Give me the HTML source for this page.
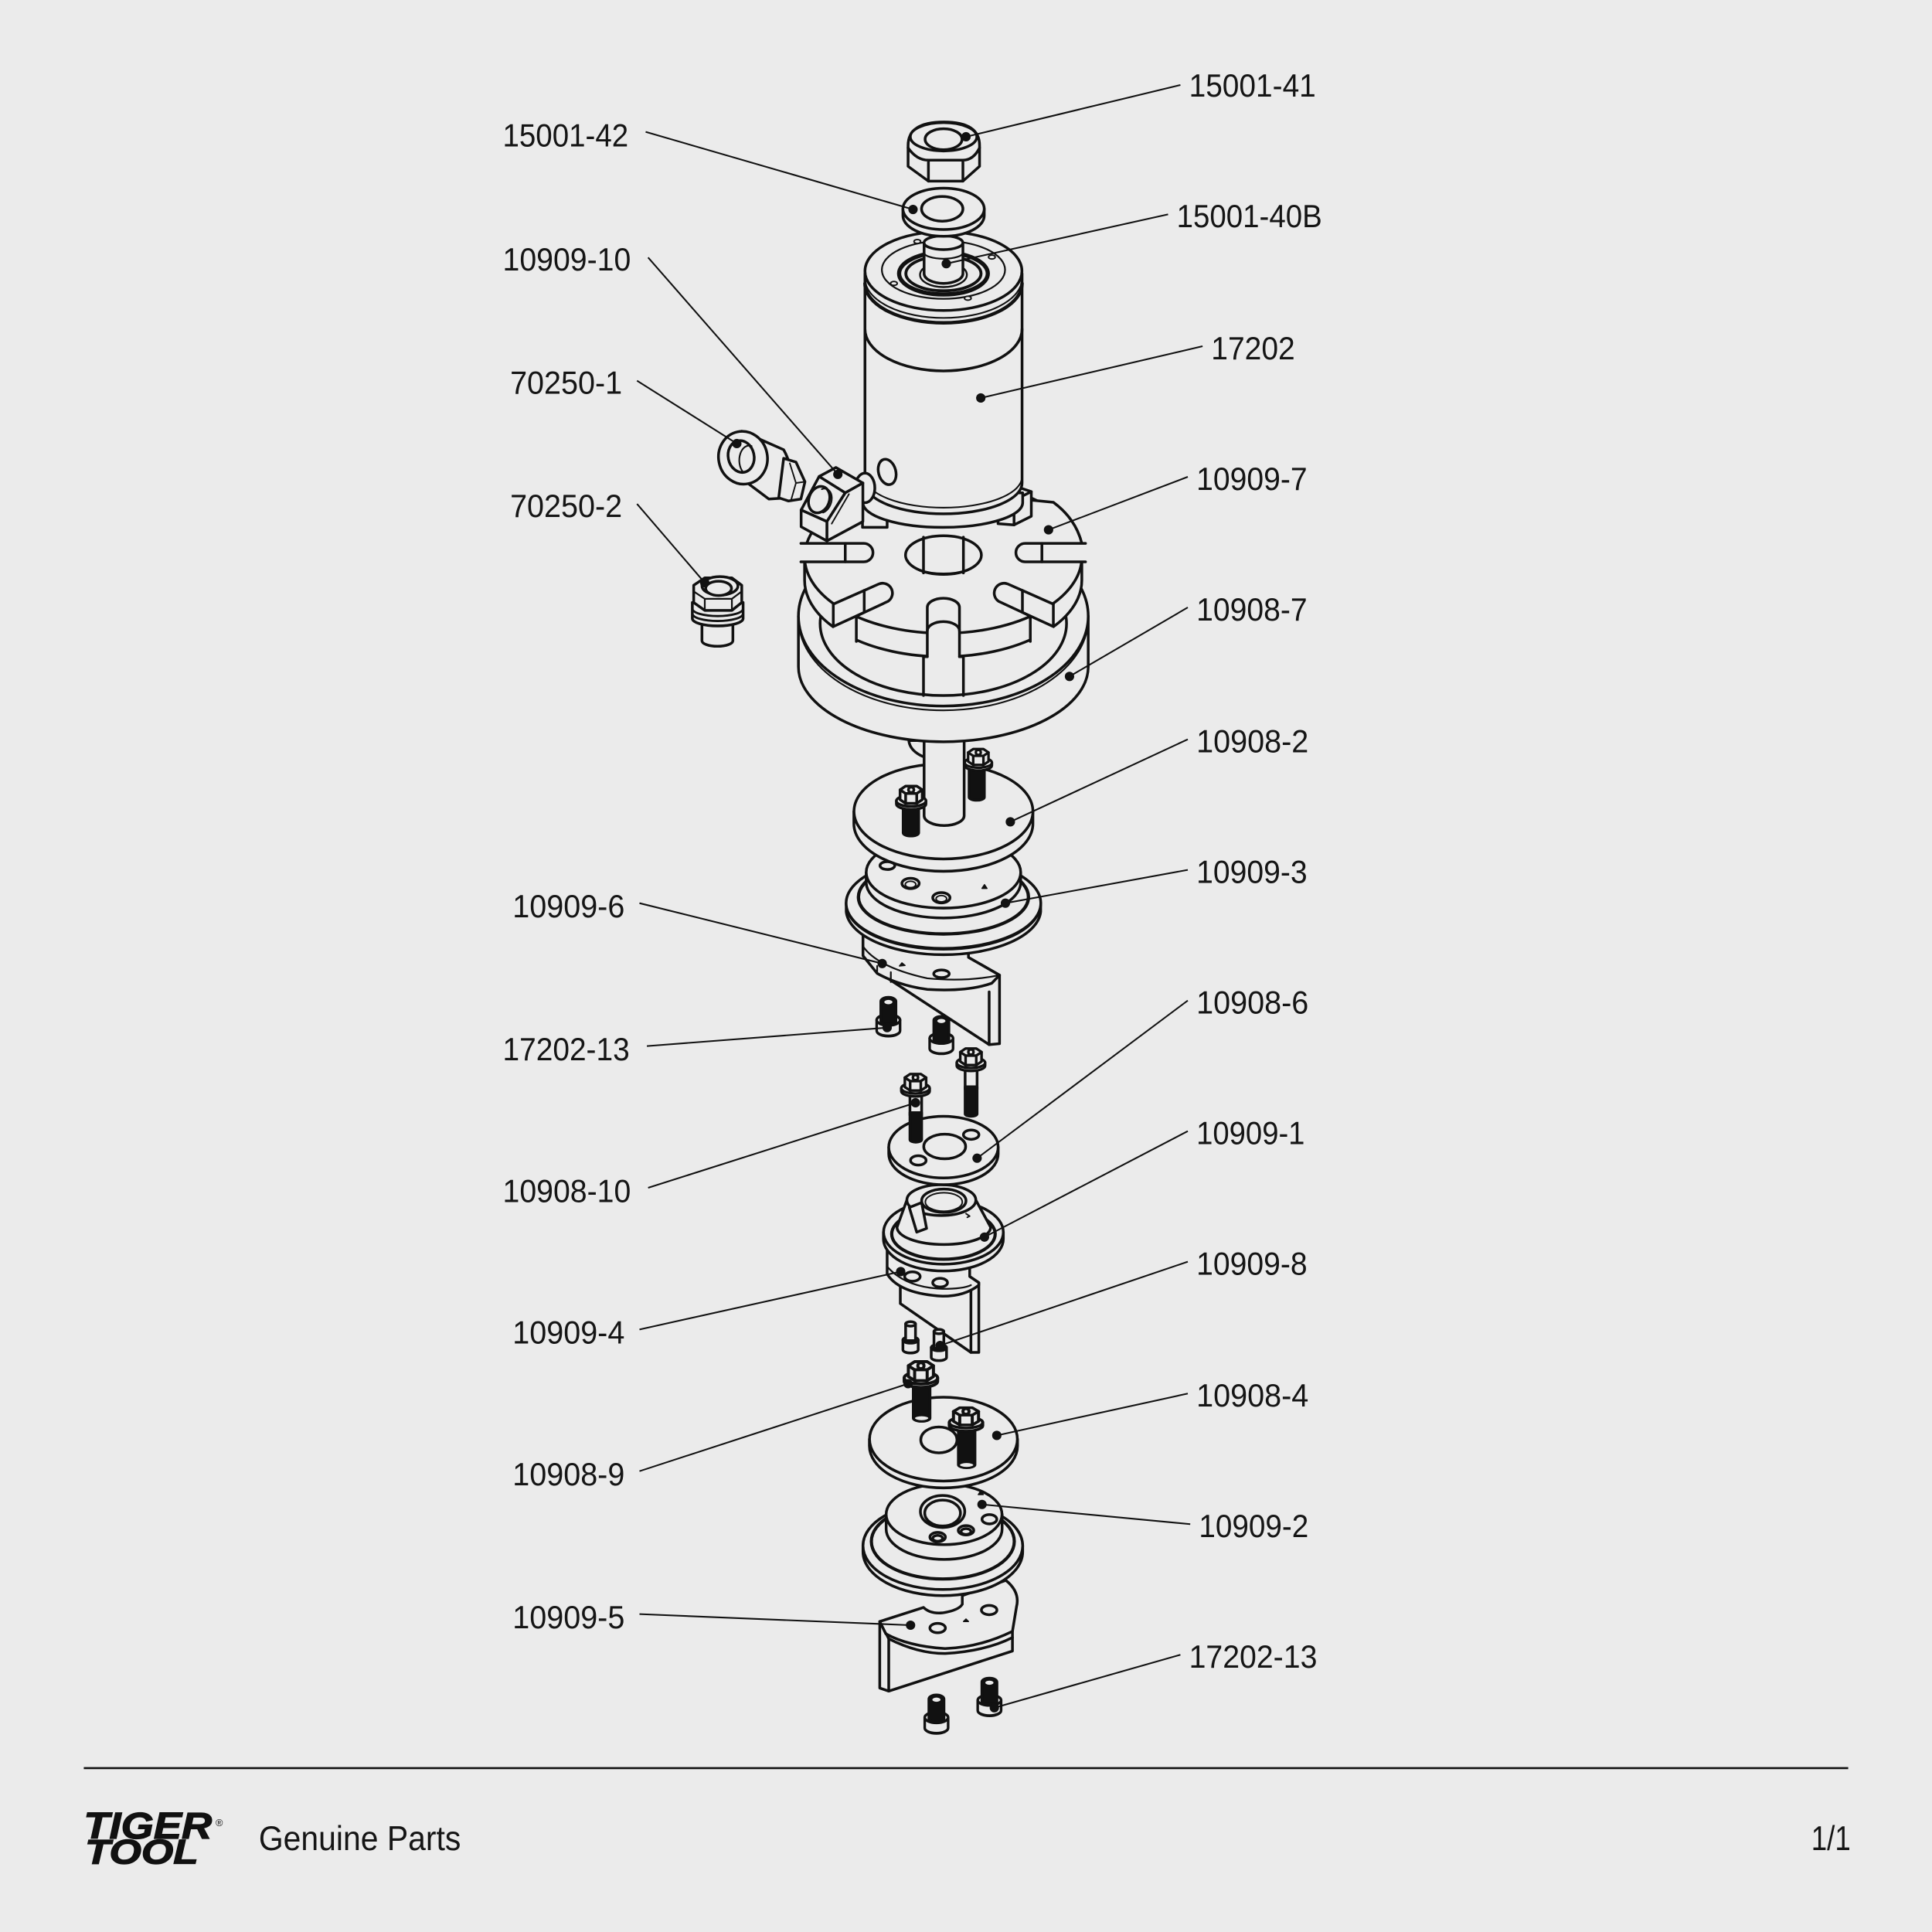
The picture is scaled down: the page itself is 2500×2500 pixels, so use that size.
<!DOCTYPE html>
<html><head><meta charset="utf-8"><title>Exploded parts diagram</title>
<style>
html,body{margin:0;padding:0;background:#ebebeb;}
svg{display:block}
.lbl{font-family:"Liberation Sans",sans-serif;font-size:26px;fill:#151515;}
</style></head><body>
<svg xmlns="http://www.w3.org/2000/svg" width="2500" height="2500" viewBox="0 0 1568 1568">
<rect x="0" y="0" width="1568" height="1568" fill="#ebebeb"/>

<g fill="#ebebeb" stroke="#111" stroke-width="2.2" stroke-linejoin="round" stroke-linecap="round">

<!-- ============ LOWER ASSEMBLY (bottom first) ============ -->

<!-- lower screws 17202-13 -->
<g transform="translate(760,1375.7) scale(0.95,1.07)">
 <path d="M-10,17 L-10,25 A10,4 0 0 0 10,25 L10,17 Z"/>
 <ellipse cx="0" cy="17" rx="10" ry="4"/>
 <path d="M-6.5,3 A6.5,3 0 0 1 6.5,3 L6.5,18 A6.5,2.5 0 0 1 -6.5,18 Z" fill="#111"/>
 <ellipse cx="0" cy="3.5" rx="3.5" ry="1.6" fill="#ebebeb" stroke="none"/>
</g>
<g transform="translate(803,1362) scale(0.95,1.05)">
 <path d="M-10,17 L-10,25 A10,4 0 0 0 10,25 L10,17 Z"/>
 <ellipse cx="0" cy="17" rx="10" ry="4"/>
 <path d="M-6.5,3 A6.5,3 0 0 1 6.5,3 L6.5,18 A6.5,2.5 0 0 1 -6.5,18 Z" fill="#111"/>
 <ellipse cx="0" cy="3.5" rx="3.5" ry="1.6" fill="#ebebeb" stroke="none"/>
</g>

<!-- 10909-5 bracket -->
<path d="M714,1316 L714,1370 L721.3,1372.5 L821.7,1340 L821.7,1320 L719,1326 Z"/>
<path d="M714,1316 L749.5,1304.6 Q755,1310 765,1309 Q778,1307 781,1302 L781,1295 L816.4,1282.6 Q828,1292 825,1304 L821.7,1324 Q795,1337 767,1338 Q737,1336 719,1326 Z"/>
<path d="M719.3,1326 L721.3,1330 Q745,1342 767,1342 Q800,1340 821.7,1329" fill="none"/>
<path d="M721.3,1330 L721.3,1372.5" fill="none"/>
<ellipse cx="761" cy="1321.3" rx="6.3" ry="3.8"/>
<ellipse cx="802.8" cy="1306.7" rx="6.3" ry="3.8"/>
<path d="M782,1316 l2,-2 l2,2 z" fill="#111" stroke-width="1"/>

<!-- 10909-2 -->
<path d="M700.4,1254.5 L700.4,1259.5 A64.8,35.5 0 0 0 830,1259.5 L830,1254.5 Z"/>
<ellipse cx="765.2" cy="1254.5" rx="64.8" ry="35.5"/>
<ellipse cx="765.2" cy="1251" rx="58" ry="30.5" stroke-width="2.6"/>
<path d="M719.2,1229 L719.2,1241 A47,24.6 0 0 0 813.3,1241 L813.3,1229 Z"/>
<ellipse cx="766.2" cy="1229" rx="47" ry="24.6"/>
<ellipse cx="765" cy="1226.7" rx="18" ry="13"/>
<ellipse cx="765" cy="1228" rx="14.5" ry="10.5"/>
<ellipse cx="761" cy="1247.5" rx="6.3" ry="3.8"/>
<ellipse cx="761" cy="1248.5" rx="4" ry="2.4"/>
<ellipse cx="784" cy="1242" rx="6.3" ry="3.8"/>
<ellipse cx="784" cy="1243" rx="4" ry="2.4"/>
<ellipse cx="803" cy="1233" rx="6" ry="3.8"/>
<path d="M794,1213 l2,-3 l2,3 z" fill="#111" stroke-width="1"/>

<!-- 10908-4 disc -->
<path d="M705.6,1168 L705.6,1173.5 A60,34 0 0 0 825.8,1173.5 L825.8,1168 Z"/>
<ellipse cx="765.7" cy="1168" rx="60" ry="34"/>
<ellipse cx="762" cy="1168.6" rx="14.7" ry="10.5"/>
<path d="M747.5,1170 A14.5,9 0 0 0 776.5,1170" fill="none" stroke-width="1.2"/>

<!-- 10908-9 bolts -->
<path d="M741.2,1120 L741.2,1151 A6.8,2.5 0 0 0 754.8,1151 L754.8,1120 Z" fill="#111"/>
<ellipse cx="748" cy="1151" rx="6" ry="2.2" stroke-width="1.2"/>
<g transform="translate(747.4,1104) scale(1.13,1.1)">
 <path d="M-12,13 L-12,15.5 A12,4.5 0 0 0 12,15.5 L12,13 Z"/>
 <ellipse cx="0" cy="13" rx="12" ry="4.5"/>
 <path d="M-9,4 L-9,12 L-4.5,15 L4.5,15 L9,12 L9,4 L4.5,1 L-4.5,1 Z"/>
 <path d="M-9,4 L-4.5,7 L4.5,7 L9,4 M-4.5,7 L-4.5,15 M4.5,7 L4.5,15" fill="none"/>
 <circle cx="0" cy="4" r="2.2"/>
</g>
<path d="M777.8,1158 L777.8,1189 A6.8,2.5 0 0 0 791.3,1189 L791.3,1158 Z" fill="#111"/>
<ellipse cx="784.5" cy="1189" rx="6" ry="2.2" stroke-width="1.2"/>
<g transform="translate(784,1141.5) scale(1.13,1.0)">
 <path d="M-12,13 L-12,15.5 A12,4.5 0 0 0 12,15.5 L12,13 Z"/>
 <ellipse cx="0" cy="13" rx="12" ry="4.5"/>
 <path d="M-9,4 L-9,12 L-4.5,15 L4.5,15 L9,12 L9,4 L4.5,1 L-4.5,1 Z"/>
 <path d="M-9,4 L-4.5,7 L4.5,7 L9,4 M-4.5,7 L-4.5,15 M4.5,7 L4.5,15" fill="none"/>
 <circle cx="0" cy="4" r="2.2"/>
</g>

<!-- 10909-4 bracket -->
<path d="M730.7,1042 L787,1036 L794.4,1041 L794.4,1097.6 L788,1097.6 L730.7,1058 Z"/>
<path d="M788,1046 L788,1097.6" fill="none"/>
<path d="M720,1012 L720,1034 Q730,1050 765,1052 Q783,1052 794.4,1043 L794.4,1041 L787,1036 L787,1012 Z"/>
<path d="M720,1028 Q735,1045 765,1046 Q782,1046 788,1043" fill="none" stroke-width="1.4"/>
<ellipse cx="740.5" cy="1036" rx="6.3" ry="3.8"/>
<ellipse cx="763" cy="1041" rx="6" ry="3.5"/>

<!-- 10909-8 screws -->
<g transform="translate(739,1072.5)">
 <path d="M-6.2,15 L-6.2,23 A6.2,2.6 0 0 0 6.2,23 L6.2,15 Z"/>
 <ellipse cx="0" cy="15" rx="6.2" ry="2.6"/>
 <path d="M-4,2 L-4,15.5 L4,15.5 L4,2 Z"/>
 <ellipse cx="0" cy="2" rx="4" ry="1.8"/>
</g>
<g transform="translate(762,1078.7)">
 <path d="M-6.2,15 L-6.2,23 A6.2,2.6 0 0 0 6.2,23 L6.2,15 Z"/>
 <ellipse cx="0" cy="15" rx="6.2" ry="2.6"/>
 <path d="M-4,2 L-4,15.5 L4,15.5 L4,2 Z"/>
 <ellipse cx="0" cy="2" rx="4" ry="1.8"/>
</g>

<!-- 10909-1 -->
<path d="M717,1000 L717,1005.5 A48.6,26 0 0 0 814.3,1005.5 L814.3,1000 Z"/>
<ellipse cx="765.7" cy="1000" rx="48.6" ry="26"/>
<ellipse cx="765.7" cy="1001.5" rx="42" ry="20.5" stroke-width="2.6"/>
<path d="M736,974 L728,996 A38,14 0 0 0 804,996 L792,974 Z"/>
<ellipse cx="764" cy="974" rx="28" ry="12.5"/>
<ellipse cx="766" cy="974.5" rx="18" ry="9.5"/>
<ellipse cx="766" cy="975.5" rx="15" ry="7.5" stroke-width="1.2"/>
<path d="M738,980 L748,976 L752,997 L744,1000 Z"/>
<path d="M784,985 l3,2 l-2,1" fill="none" stroke-width="1.2"/>

<!-- 10908-6 disc -->
<path d="M721.3,931 L721.3,936.5 A44.4,25 0 0 0 810.1,936.5 L810.1,931 Z"/>
<ellipse cx="765.7" cy="931" rx="44.4" ry="25"/>
<ellipse cx="766.7" cy="930.5" rx="17" ry="10"/>
<path d="M750,932 A16.5,8 0 0 0 783.4,932" fill="none" stroke-width="1.2"/>
<ellipse cx="745.3" cy="941.8" rx="6.3" ry="3.8"/>
<ellipse cx="788.2" cy="920.9" rx="6.3" ry="3.8"/>

<!-- 10908-10 bolts -->
<path d="M738.5,884 L738.5,905 L748,905 L748,884 Z"/>
<path d="M738.5,903 L738.5,925 A4.75,2 0 0 0 748,925 L748,903 Z" fill="#111"/>
<g transform="translate(743,870.7) scale(0.96)">
 <path d="M-12,13 L-12,15.5 A12,4.5 0 0 0 12,15.5 L12,13 Z"/>
 <ellipse cx="0" cy="13" rx="12" ry="4.5"/>
 <path d="M-9,4 L-9,12 L-4.5,15 L4.5,15 L9,12 L9,4 L4.5,1 L-4.5,1 Z"/>
 <path d="M-9,4 L-4.5,7 L4.5,7 L9,4 M-4.5,7 L-4.5,15 M4.5,7 L4.5,15" fill="none"/>
 <circle cx="0" cy="4" r="2.2"/>
</g>
<path d="M783.3,864 L783.3,884 L793,884 L793,864 Z"/>
<path d="M783.3,882 L783.3,904 A4.85,2 0 0 0 793,904 L793,882 Z" fill="#111"/>
<g transform="translate(788,850) scale(0.96)">
 <path d="M-12,13 L-12,15.5 A12,4.5 0 0 0 12,15.5 L12,13 Z"/>
 <ellipse cx="0" cy="13" rx="12" ry="4.5"/>
 <path d="M-9,4 L-9,12 L-4.5,15 L4.5,15 L9,12 L9,4 L4.5,1 L-4.5,1 Z"/>
 <path d="M-9,4 L-4.5,7 L4.5,7 L9,4 M-4.5,7 L-4.5,15 M4.5,7 L4.5,15" fill="none"/>
 <circle cx="0" cy="4" r="2.2"/>
</g>

<!-- ============ MIDDLE ASSEMBLY ============ -->

<!-- 10909-6 bracket -->
<path d="M722,795 L786,777 L811.2,791.4 L811.2,847 L802.8,847.8 Z"/>
<path d="M802.8,805 L802.8,847.8" fill="none"/>
<path d="M700.4,752 L700.4,775.7 L711.9,790 Q730,800 752.6,803 Q785,805 804.9,798 L811.2,791.4 L786,777 L786,752 Z"/>
<path d="M700.4,768 Q712,785 752.6,794 Q785,797 811.2,791.4" fill="none" stroke-width="1.4"/>
<path d="M711.9,784 L711.9,790 M723,789 L723,797" fill="none" stroke-width="1.4"/>
<ellipse cx="764.1" cy="790.3" rx="6.3" ry="3.1"/>
<path d="M730,784 l2,-2.5 l2.5,2 z" fill="#111" stroke-width="1"/>

<!-- upper screws 17202-13 -->
<g transform="translate(721,809.5) scale(0.95,1.08)">
 <path d="M-10,17 L-10,25 A10,4 0 0 0 10,25 L10,17 Z"/>
 <ellipse cx="0" cy="17" rx="10" ry="4"/>
 <path d="M-6.5,3 A6.5,3 0 0 1 6.5,3 L6.5,18 A6.5,2.5 0 0 1 -6.5,18 Z" fill="#111"/>
 <ellipse cx="0" cy="3.5" rx="3.5" ry="1.6" fill="#ebebeb" stroke="none"/>
</g>
<g transform="translate(764,825) scale(0.95,1.04)">
 <path d="M-10,17 L-10,25 A10,4 0 0 0 10,25 L10,17 Z"/>
 <ellipse cx="0" cy="17" rx="10" ry="4"/>
 <path d="M-6.5,3 A6.5,3 0 0 1 6.5,3 L6.5,18 A6.5,2.5 0 0 1 -6.5,18 Z" fill="#111"/>
 <ellipse cx="0" cy="3.5" rx="3.5" ry="1.6" fill="#ebebeb" stroke="none"/>
</g>

<!-- 10909-3 -->
<path d="M686.8,733 L686.8,740 A79,36.7 0 0 0 844.6,740 L844.6,733 Z"/>
<ellipse cx="765.7" cy="733" rx="79" ry="36.7"/>
<path d="M686.8,736 A79,36.7 0 0 0 844.6,736" fill="none" stroke-width="1.2"/>
<ellipse cx="765.7" cy="728" rx="69" ry="30" stroke-width="2.7"/>
<path d="M703,708 L703,716 A62.7,29 0 0 0 828.4,716 L828.4,708 Z"/>
<ellipse cx="765.7" cy="708" rx="62.7" ry="29"/>
<ellipse cx="720.2" cy="702.5" rx="6" ry="3.2"/>
<ellipse cx="739" cy="717" rx="7" ry="4.2"/>
<ellipse cx="739" cy="717.8" rx="4.3" ry="2.6" stroke-width="1.2"/>
<ellipse cx="764" cy="728.6" rx="7" ry="4.2"/>
<ellipse cx="764" cy="729.4" rx="4.3" ry="2.6" stroke-width="1.2"/>
<path d="M797,721 l2,-3 l2,3 z" fill="#111" stroke-width="1"/>

<!-- 10908-2 disc -->
<path d="M693,658.5 L693,668.5 A72.6,38.6 0 0 0 838.3,668.5 L838.3,658.5 Z"/>
<ellipse cx="765.7" cy="658.5" rx="72.6" ry="38.6"/>

<!-- shaft under ring + boss -->
<path d="M737.6,601 A22.5,16 0 0 0 782.5,601 Z"/>
<path d="M750,598 L750,662 A16.25,8 0 0 0 782.5,662 L782.5,598"/>

<!-- 10908-2 bolts -->
<path d="M733,650 L733,676 A6.3,2.5 0 0 0 745.6,676 L745.6,650 Z" fill="#111"/>
<g transform="translate(739.5,637)">
 <path d="M-12,13 L-12,15.5 A12,4.5 0 0 0 12,15.5 L12,13 Z"/>
 <ellipse cx="0" cy="13" rx="12" ry="4.5"/>
 <path d="M-9,4 L-9,12 L-4.5,15 L4.5,15 L9,12 L9,4 L4.5,1 L-4.5,1 Z"/>
 <path d="M-9,4 L-4.5,7 L4.5,7 L9,4 M-4.5,7 L-4.5,15 M4.5,7 L4.5,15" fill="none"/>
 <circle cx="0" cy="4" r="2.2"/>
</g>
<path d="M786.5,620 L786.5,647 A6.2,2.5 0 0 0 798.9,647 L798.9,620 Z" fill="#111"/>
<g transform="translate(794,607) scale(0.92)">
 <path d="M-12,13 L-12,15.5 A12,4.5 0 0 0 12,15.5 L12,13 Z"/>
 <ellipse cx="0" cy="13" rx="12" ry="4.5"/>
 <path d="M-9,4 L-9,12 L-4.5,15 L4.5,15 L9,12 L9,4 L4.5,1 L-4.5,1 Z"/>
 <path d="M-9,4 L-4.5,7 L4.5,7 L9,4 M-4.5,7 L-4.5,15 M4.5,7 L4.5,15" fill="none"/>
 <circle cx="0" cy="4" r="2.2"/>
</g>

<!-- ============ UPPER ASSEMBLY ============ -->

<!-- 10908-7 ring -->
<path d="M648,500 L648,541 A117.6,61 0 0 0 883.2,541 L883.2,500 Z"/>
<ellipse cx="765.6" cy="500" rx="117.6" ry="73"/>
<path d="M648,502 A117.6,74.5 0 0 0 883.2,502" fill="none" stroke-width="1.3"/>
<ellipse cx="765.6" cy="506" rx="100" ry="58.5"/>

<!-- 10909-7 plate -->
<path d="M653,452 L653,471 A112.5,62 0 0 0 878,471 L878,452 Z"/>
<ellipse cx="765.5" cy="452" rx="112.5" ry="62"/>
<!-- back-right sharp corner -->
<path d="M828,404 L855,407.7 Q873,421 878.6,441 L878.6,452 L828,452 Z" stroke="none"/>
<path d="M828,405 L855,407.7 Q873,421 878,441" fill="none"/>
<!-- left / right side slots -->
<path d="M650,441 L701,441 A7.5,7.5 0 0 1 701,456 L650,456"/>
<path d="M686,441 L686,456" fill="none"/>
<path d="M881,441 L832,441 A7.5,7.5 0 0 0 832,456 L881,456"/>
<path d="M845.6,441 L845.6,456" fill="none"/>
<!-- front-left slot -->
<path d="M676.3,490.3 L713.4,473.9 A8,8 0 0 1 720.6,488.1 L695,500 L695,522 L676.3,511 Z" stroke="none"/>
<path d="M676.3,490.3 L713.4,473.9 A8,8 0 0 1 720.6,488.1 L695,500 L695,520.6" fill="none"/>
<path d="M676.3,490.3 L676.3,508.5 L701.4,497 M701.4,479.2 L701.4,497" fill="none"/>
<!-- front-right slot -->
<path d="M854.9,490.3 L817.8,473.9 A8,8 0 0 0 810.6,488.1 L836.2,500 L836.2,522 L854.9,511 Z" stroke="none"/>
<path d="M854.9,490.3 L817.8,473.9 A8,8 0 0 0 810.6,488.1 L836.2,500 L836.2,520.6" fill="none"/>
<path d="M854.9,490.3 L854.9,508.5 L829.8,497 M829.8,479.2 L829.8,497" fill="none"/>
<!-- front-center slot -->
<path d="M752.6,536 L752.6,493 A13.05,7.5 0 0 1 778.7,493 L778.7,536 Z" stroke="none"/>
<path d="M752.6,533 L752.6,493 A13.05,7.5 0 0 1 778.7,493 L778.7,533" fill="none"/>
<path d="M752.6,512 A13.05,7.5 0 0 1 778.7,512" fill="none"/>
<path d="M749.5,533 L752.6,533 M778.7,533 L781.9,533 M749.5,533 L749.5,564.5 M781.9,533 L781.9,564.5" fill="none"/>
<!-- center hole -->
<ellipse cx="765.7" cy="450.5" rx="30.8" ry="15.7"/>
<path d="M737,455 A29,12 0 0 0 794.5,455" fill="none" stroke-width="1.3"/>
<path d="M749.5,436 L749.5,465 M781.9,436 L781.9,465" fill="none"/>
<!-- raised blocks -->
<path d="M810,425 L810,401 L825,395 L837,399 L837,419 L823,426 Z"/>
<path d="M810,401 L823,406 L837,399 M823,406 L823,426" fill="none"/>
<path d="M700,428 L700,410 L720,410 L720,428 Z"/>

<!-- 17202 barrel -->
<path d="M700.3,400 L700.3,408 A64.8,20 0 0 0 830,408 L830,400 Z"/>
<path d="M702,222 L702,392 A63.7,25 0 0 0 829.5,392 L829.5,222 Z"/>
<path d="M702,387 A63.7,25 0 0 0 829.5,387" fill="none" stroke-width="1.3"/>
<path d="M702,267 A63.7,34 0 0 0 829.5,267" fill="none"/>
<path d="M702,226 A63.7,32 0 0 0 829.5,226" fill="none" stroke-width="1.3"/>
<path d="M702,230 A63.7,32 0 0 0 829.5,230" fill="none" stroke-width="2.8"/>
<ellipse cx="765.7" cy="220" rx="63.7" ry="32"/>
<ellipse cx="765.7" cy="219" rx="50" ry="23.5" stroke-width="1.4"/>
<ellipse cx="765.7" cy="222" rx="36" ry="17" stroke-width="3.4"/>
<ellipse cx="765.7" cy="222" rx="30.5" ry="14" stroke-width="2.4"/>
<ellipse cx="765.7" cy="223" rx="19" ry="10" stroke-width="1.5"/>
<path d="M750,197 L750,222 A15.75,8 0 0 0 781.5,222 L781.5,197 Z"/>
<path d="M750,205 A15.75,5 0 0 0 781.5,205" fill="none" stroke-width="1.4"/>
<ellipse cx="765.7" cy="197" rx="15.75" ry="5.6"/>
<ellipse cx="744.5" cy="196" rx="2.7" ry="1.6" stroke-width="1.2"/>
<ellipse cx="805" cy="208.6" rx="2.7" ry="1.6" stroke-width="1.2"/>
<ellipse cx="725.5" cy="230" rx="2.7" ry="1.6" stroke-width="1.2"/>
<ellipse cx="785.5" cy="242" rx="2.7" ry="1.6" stroke-width="1.2"/>
<ellipse cx="720" cy="383" rx="7" ry="10.5" transform="rotate(-15 720 383)"/>

<!-- 10909-10 block -->
<ellipse cx="702" cy="396" rx="8" ry="12"/>
<path d="M664.8,386.7 L678.4,379.4 L700.3,392 L686,400 Z"/>
<path d="M650.2,413.9 L664.8,386.7 L686,400 L671.1,423.3 Z"/>
<path d="M686,400 L700.3,392 L700.3,423.3 L671.1,439 L671.1,423.3 Z"/>
<path d="M650.2,413.9 L671.1,423.3 L671.1,439 L650.2,427.5 Z"/>
<path d="M675,425 L689,401" fill="none" stroke-width="1.2"/>
<ellipse cx="664.8" cy="405.5" rx="8.3" ry="11" transform="rotate(20 664.8 405.5)"/>
<path d="M667,397 A7,10 20 0 1 668,416" fill="none" stroke-width="1.3"/>

<!-- 70250-1 coupler -->
<path d="M602,350 L636,365 Q646,383 640,404 L624,405 L608,393 Z"/>
<path d="M636,372 L646,375 L653.3,391 L650,405 L640,406.6 L632,404 Z"/>
<path d="M641,376 L646,392 L642,406 M646,392 L653,391" fill="none" stroke-width="1.2"/>
<ellipse cx="603" cy="371.5" rx="19.8" ry="21.5" transform="rotate(-12 603 371.5)"/>
<ellipse cx="601.5" cy="370.5" rx="10.5" ry="13" transform="rotate(-12 601.5 370.5)"/>
<path d="M603,383 A8,12 0 0 1 610,362" fill="none" stroke-width="1.3"/>

<!-- 70250-2 fitting -->
<path d="M569.7,504 L569.7,520 A12.5,4.5 0 0 0 594.8,520 L594.8,504 Z"/>
<path d="M561.9,489 L561.9,502 A20.6,6 0 0 0 603.1,502 L603.1,489 Z"/>
<path d="M561.9,494 A20.6,6 0 0 0 603.1,494 M561.9,498 A20.6,6 0 0 0 603.1,498" fill="none" stroke-width="1.8"/>
<path d="M563,475 L563,489 L572,495.4 L594,495.4 L602,489 L602,475 L594,469 L572,469 Z"/>
<path d="M563,480 L572,486 L594,486 L602,480 M572,486 L572,495.4 M594,486 L594,495.4" fill="none" stroke-width="1.4"/>
<ellipse cx="584.3" cy="475.5" rx="14.6" ry="7.5"/>
<ellipse cx="583.2" cy="477.5" rx="10.5" ry="5.8"/>

<!-- 15001-42 washer -->
<path d="M732.8,169.5 L732.8,175 A33,16.8 0 0 0 798.8,175 L798.8,169.5 Z"/>
<ellipse cx="765.8" cy="169.5" rx="33" ry="16.8"/>
<ellipse cx="764.7" cy="169.5" rx="16.8" ry="10"/>

<!-- 15001-41 nut -->
<path d="M737,118 L737,135 L753.5,147 L781.5,147 L795,135 L795,118 Q795,99 766,99 Q737,99 737,118 Z"/>
<path d="M737,120 Q744,130 753.5,130 L781.5,130 Q790,130 795,120 M753.5,130 L753.5,147 M781.5,130 L781.5,147" fill="none"/>
<ellipse cx="765.8" cy="111" rx="27" ry="11.5"/>
<ellipse cx="765.8" cy="113" rx="15" ry="8.5"/>
</g>

<!-- ============ LEADERS ============ -->
<g stroke="#111" stroke-width="1.3" fill="none">
<path d="M524,107 L741,170"/>
<path d="M526,209 L680,385"/>
<path d="M517,309 L598,360"/>
<path d="M517,409 L572,473"/>
<path d="M519,733 L716,782"/>
<path d="M525,849 L720,834"/>
<path d="M526,964 L743,895"/>
<path d="M519,1079 L731,1032"/>
<path d="M519,1194 L737,1123"/>
<path d="M519,1310 L739,1319"/>
<path d="M958,69 L784,111"/>
<path d="M948,174 L768,214"/>
<path d="M976,281 L796,323"/>
<path d="M964,387 L851,430"/>
<path d="M964,493 L868,549"/>
<path d="M964,600 L820,667"/>
<path d="M964,706 L816,733"/>
<path d="M964,812 L793,940"/>
<path d="M964,918 L799,1004"/>
<path d="M964,1024 L763,1092"/>
<path d="M964,1131 L809,1165"/>
<path d="M966,1237 L797,1221"/>
<path d="M958,1343 L807,1386"/>
</g>
<g fill="#111">
<circle cx="741" cy="170" r="3.8"/>
<circle cx="680" cy="385" r="3.8"/>
<circle cx="598" cy="360" r="3.8"/>
<circle cx="572" cy="473" r="3.8"/>
<circle cx="716" cy="782" r="3.8"/>
<circle cx="720" cy="834" r="3.8"/>
<circle cx="743" cy="895" r="3.8"/>
<circle cx="731" cy="1032" r="3.8"/>
<circle cx="737" cy="1123" r="3.8"/>
<circle cx="739" cy="1319" r="3.8"/>
<circle cx="784" cy="111" r="3.8"/>
<circle cx="768" cy="214" r="3.8"/>
<circle cx="796" cy="323" r="3.8"/>
<circle cx="851" cy="430" r="3.8"/>
<circle cx="868" cy="549" r="3.8"/>
<circle cx="820" cy="667" r="3.8"/>
<circle cx="816" cy="733" r="3.8"/>
<circle cx="793" cy="940" r="3.8"/>
<circle cx="799" cy="1004" r="3.8"/>
<circle cx="763" cy="1092" r="3.8"/>
<circle cx="809" cy="1165" r="3.8"/>
<circle cx="797" cy="1221" r="3.8"/>
<circle cx="807" cy="1386" r="3.8"/>
</g>

<!-- ============ LABELS ============ -->
<g class="lbl">
<text class="lbl" x="408" y="119" textLength="102" lengthAdjust="spacingAndGlyphs">15001-42</text>
<text class="lbl" x="408" y="219.5" textLength="104" lengthAdjust="spacingAndGlyphs">10909-10</text>
<text class="lbl" x="414" y="319.5" textLength="91" lengthAdjust="spacingAndGlyphs">70250-1</text>
<text class="lbl" x="414" y="419.5" textLength="91" lengthAdjust="spacingAndGlyphs">70250-2</text>
<text class="lbl" x="416" y="744.5" textLength="91" lengthAdjust="spacingAndGlyphs">10909-6</text>
<text class="lbl" x="408" y="860.5" textLength="103" lengthAdjust="spacingAndGlyphs">17202-13</text>
<text class="lbl" x="408" y="975.5" textLength="104" lengthAdjust="spacingAndGlyphs">10908-10</text>
<text class="lbl" x="416" y="1090.5" textLength="91" lengthAdjust="spacingAndGlyphs">10909-4</text>
<text class="lbl" x="416" y="1205.5" textLength="91" lengthAdjust="spacingAndGlyphs">10908-9</text>
<text class="lbl" x="416" y="1321.5" textLength="91" lengthAdjust="spacingAndGlyphs">10909-5</text>

<text class="lbl" x="965" y="78.5" textLength="103" lengthAdjust="spacingAndGlyphs">15001-41</text>
<text class="lbl" x="955" y="184.5" textLength="118" lengthAdjust="spacingAndGlyphs">15001-40B</text>
<text class="lbl" x="983" y="291.5" textLength="68" lengthAdjust="spacingAndGlyphs">17202</text>
<text class="lbl" x="971" y="397.5" textLength="90" lengthAdjust="spacingAndGlyphs">10909-7</text>
<text class="lbl" x="971" y="503.5" textLength="90" lengthAdjust="spacingAndGlyphs">10908-7</text>
<text class="lbl" x="971" y="610.5" textLength="91" lengthAdjust="spacingAndGlyphs">10908-2</text>
<text class="lbl" x="971" y="716.5" textLength="90" lengthAdjust="spacingAndGlyphs">10909-3</text>
<text class="lbl" x="971" y="822.5" textLength="91" lengthAdjust="spacingAndGlyphs">10908-6</text>
<text class="lbl" x="971" y="928.5" textLength="88" lengthAdjust="spacingAndGlyphs">10909-1</text>
<text class="lbl" x="971" y="1034.5" textLength="90" lengthAdjust="spacingAndGlyphs">10909-8</text>
<text class="lbl" x="971" y="1141.5" textLength="91" lengthAdjust="spacingAndGlyphs">10908-4</text>
<text class="lbl" x="973" y="1247.5" textLength="89" lengthAdjust="spacingAndGlyphs">10909-2</text>
<text class="lbl" x="965" y="1353.5" textLength="104" lengthAdjust="spacingAndGlyphs">17202-13</text>
</g>

<!-- ============ FOOTER ============ -->
<path d="M68,1435 L1500,1435" stroke="#111" stroke-width="1.7"/>
<text x="68" y="1492" font-family="Liberation Sans, sans-serif" font-weight="bold" font-style="italic" font-size="30" fill="#111" stroke="#111" stroke-width="0.8" textLength="104" lengthAdjust="spacingAndGlyphs">TIGER</text>
<text x="69" y="1512.6" font-family="Liberation Sans, sans-serif" font-weight="bold" font-style="italic" font-size="28" fill="#111" stroke="#111" stroke-width="0.8" textLength="92" lengthAdjust="spacingAndGlyphs">TOOL</text>
<text x="175" y="1482" font-family="Liberation Sans, sans-serif" font-size="8" fill="#111">®</text>
<text x="210" y="1501.5" font-family="Liberation Sans, sans-serif" font-size="28" fill="#151515" textLength="164" lengthAdjust="spacingAndGlyphs">Genuine Parts</text>
<text x="1470" y="1501.5" font-family="Liberation Sans, sans-serif" font-size="28" fill="#151515" textLength="32" lengthAdjust="spacingAndGlyphs">1/1</text>
</svg>
</body></html>
